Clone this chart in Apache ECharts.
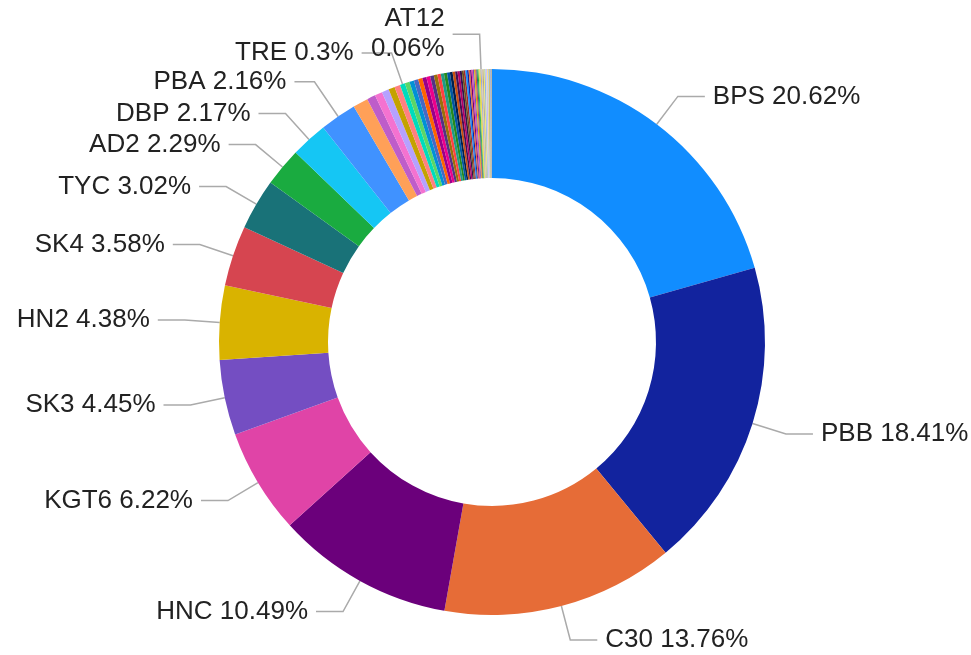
<!DOCTYPE html>
<html>
<head>
<meta charset="utf-8">
<script src="https://cdn.jsdelivr.net/npm/echarts@6/dist/echarts.min.js"></script>
<style>
  html, body { margin: 0; padding: 0; background: #fff; }
  #chart { width: 971px; height: 655px; }
</style>
</head>
<body>
<div id="chart"></div>
<script>
// slice names (only some of them are labelled in the picture)
const names = [
  'BPS', 'PBB', 'C30', 'HNC', 'KGT6', 'SK3', 'HN2', 'SK4', 'TYC', 'AD2', 'DBP', 'PBA',
  'P13', 'P14', 'P15', 'P16', 'P17', 'P18', 'TRE',
  'P20', 'P21', 'P22', 'P23', 'P24', 'P25', 'P26', 'P27', 'P28', 'P29',
  'P30', 'P31', 'P32', 'P33', 'P34', 'P35', 'P36', 'P37', 'P38', 'P39',
  'P40', 'P41', 'P42', 'P43', 'P44', 'P45', 'P46', 'P47', 'P48', 'P49', 'P50',
  'AT12',
  'P52', 'P53', 'P54', 'P55', 'P56', 'P57', 'P58', 'P59', 'P60', 'P61', 'P62', 'P63', 'P64'
];

// share in percent
const values = [
  20.62, 18.41, 13.76, 10.49, 6.22, 4.45, 4.38, 3.58, 3.02, 2.29, 2.17, 2.16,
  0.9, 0.5, 0.45, 0.42, 0.37, 0.34, 0.3,
  0.28, 0.27, 0.26, 0.25, 0.24, 0.23, 0.22, 0.21, 0.2, 0.19,
  0.18, 0.17, 0.16, 0.15, 0.14, 0.13, 0.12, 0.11, 0.1, 0.1,
  0.09, 0.09, 0.08, 0.08, 0.07, 0.07, 0.07, 0.06, 0.06, 0.06, 0.06,
  0.06,
  0.06, 0.06, 0.06, 0.05, 0.05, 0.05, 0.05, 0.05, 0.04, 0.04, 0.04, 0.03, 0.03
];

// labels shown in the picture, AT12 is wrapped on two lines
const labelled = ['BPS', 'PBB', 'C30', 'HNC', 'KGT6', 'SK3', 'HN2', 'SK4', 'TYC', 'AD2', 'DBP', 'PBA', 'TRE', 'AT12'];
const wrapped = ['AT12'];

const colors = [
  '#118DFF', '#12239E', '#E66C37', '#6B007B', '#E044A7', '#744EC2', '#D9B300', '#D64550',
  '#197278', '#1AAB40', '#15C6F4', '#4092FF', '#FFA058', '#BE5DC9', '#F472D0', '#B5A1FF',
  '#C4A200', '#FF8080', '#00DBBC', '#5BD667', '#0091D5', '#4668C5', '#FF6300', '#99008A',
  '#EC008C', '#533285', '#99700A', '#FF4141', '#1F9A85', '#25891C', '#0057A2', '#002050',
  '#C94F0F', '#450F54', '#B60064', '#34124F', '#6A531A', '#A52A2A', '#118DFF', '#12239E',
  '#E66C37', '#6B007B', '#E044A7', '#744EC2', '#D9B300', '#D64550', '#197278', '#1AAB40',
  '#C8D94A', '#F2D33B', '#8FA3E0', '#E7C98F', '#A0A0A0', '#F5E663', '#6FA8DC', '#D9D9D9',
  '#B5A1FF', '#FFD966', '#9FC5E8', '#C4A200', '#BDBDBD', '#7F9FD6', '#E6C27A', '#8C8C8C'
];

const chartDom = document.getElementById('chart');
const myChart = echarts.init(chartDom, null, { renderer: 'canvas' });

const seriesData = names.map(function (name, i) {
  const show = labelled.indexOf(name) >= 0;
  const item = {
    name: name,
    value: values[i],
    itemStyle: { color: colors[i % colors.length] },
    label: { show: show },
    labelLine: { show: show }
  };
  if (wrapped.indexOf(name) >= 0) {
    item.label.formatter = function (p) {
      return p.name + '\n' + p.value + '%';
    };
    item.label.align = 'right';
  }
  if (name === 'TRE') {
    // leader line runs a bit steeper in the picture
    item.labelLine.length = 33;
    item.labelLine.length2 = 30;
  }
  if (name === 'PBA') {
    item.labelLine.length = 42;
    item.labelLine.length2 = 20;
  }
  return item;
});

const option = {
  animation: false,
  series: [
    {
      type: 'pie',
      center: [492, 342],
      radius: [164, 273],
      startAngle: 90,
      clockwise: true,
      avoidLabelOverlap: false,
      itemStyle: { borderWidth: 0 },
      label: {
        position: 'outside',
        formatter: function (p) {
          return p.name + ' ' + p.value + '%';
        },
        fontFamily: 'Arial, "Liberation Sans", sans-serif',
        fontSize: 26,
        lineHeight: 30,
        color: '#222222',
        distanceToLabelLine: 8
      },
      labelLine: {
        length: 35,
        length2: 27,
        smooth: false,
        lineStyle: { color: '#AAAAAA', width: 1.5 }
      },
      labelLayout: { hideOverlap: false },
      emphasis: { scale: false },
      data: seriesData
    }
  ]
};
myChart.setOption(option);
</script>
</body>
</html>
